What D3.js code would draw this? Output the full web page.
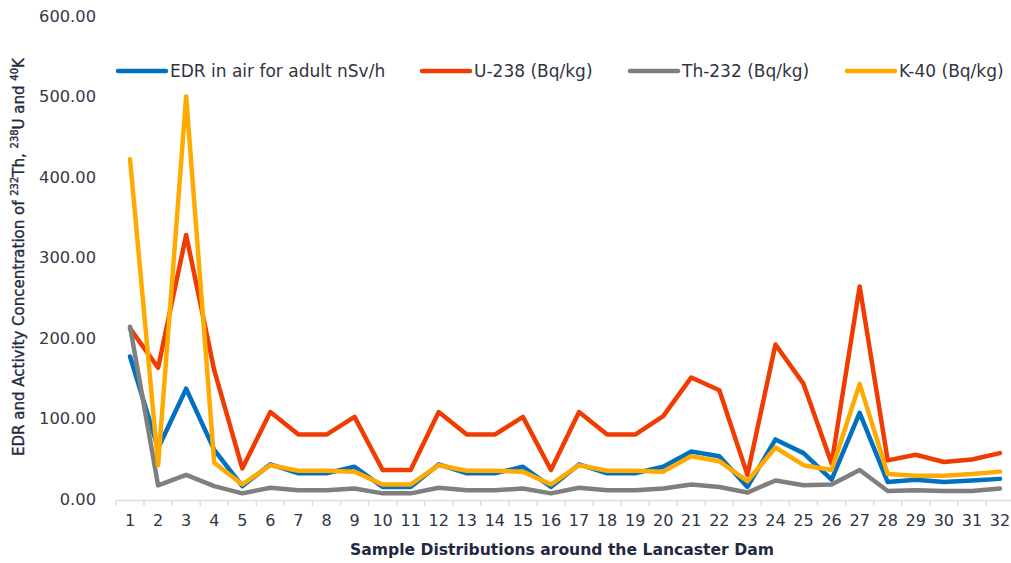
<!DOCTYPE html>
<html><head><meta charset="utf-8">
<script src="https://cdn.jsdelivr.net/npm/d3@7"></script>
<style>body{margin:0;background:#fff;} text{font-family:"DejaVu Sans",sans-serif;}</style>
</head><body>
<svg id="c" width="1011" height="563"></svg>
<script>
const categories = d3.range(1, 33).map(String);
const edr  = [177,63,137,61,16,43,32,32,40,15,15,43,32,32,40,15,43,32,32,40,59,53,15,74,57,24,107,21,24,21,23,25];
const u238 = [212,163,328,160,38,108,80,80,102,36,36,108,80,80,102,36,108,80,80,103,151,135,30,192,143,44,264,48,55,46,49,57];
const th232= [214,17,30,16,7,14,11,11,13,7,7,14,11,11,13,7,14,11,11,13,18,15,8,23,17,18,36,10,11,10,10,13];
const k40  = [422,42,500,45,18,42,35,35,34,18,18,42,35,35,34,18,42,35,35,34,53,47,22,64,42,36,143,31,29,29,31,34];
const yTicks = [0,100,200,300,400,500,600];
const seriesNames = ["EDR in air for adult nSv/h","U-238 (Bq/kg)","Th-232 (Bq/kg)","K-40 (Bq/kg)"];
const colors = ["#0070C0","#F03C00","#7F7F7F","#FFAA00"];
const series = [edr,u238,th232,k40];

const svg = d3.select("#c");
const x = d3.scaleBand().domain(categories).range([116,1014]);
const y = d3.scaleLinear().domain([0,600]).range([499,16]);

// y tick labels
svg.append("g").selectAll("text").data(yTicks).join("text")
  .attr("x",96).attr("y",d=>y(d)).attr("dy","0.35em").attr("text-anchor","end")
  .attr("font-size",16.3).attr("fill","#353a48").text(d=>d.toFixed(2));

// x axis
const xa = svg.append("g").attr("transform","translate(0,500)")
  .call(d3.axisBottom(x).tickSize(0).tickPadding(15));
xa.select(".domain").attr("stroke","#D9DEE8").attr("stroke-width",1.5);
xa.selectAll("text").attr("font-family","Open Sans, sans-serif").attr("font-size",16).attr("fill","#2F3542");
const bounds = categories.map(c=>x(c)).concat([x.range()[1]]);
xa.selectAll("line.b").data(bounds).join("line").attr("class","b")
  .attr("x1",d=>d).attr("x2",d=>d).attr("y1",0).attr("y2",6).attr("stroke","#D9DEE8").attr("stroke-width",1.5);

// lines
const line = d3.line().x((d,i)=>x(categories[i])+x.bandwidth()/2).y(d=>y(d));
series.forEach((s,i)=>{
  svg.append("path").datum(s).attr("d",line).attr("fill","none")
    .attr("stroke",colors[i]).attr("stroke-width",4.5).attr("stroke-linejoin","round").attr("stroke-linecap","round");
});

// legend
const legX = [118,422,630,847];
seriesNames.forEach((n,i)=>{
  svg.append("line").attr("x1",legX[i]).attr("x2",legX[i]+48).attr("y1",71).attr("y2",71)
    .attr("stroke",colors[i]).attr("stroke-width",4.5).attr("stroke-linecap","round");
  svg.append("text").attr("x",legX[i]+52).attr("y",71).attr("dy","0.35em")
    .attr("font-family","Open Sans, sans-serif").attr("font-size",17).attr("fill","#2F3542").text(n);
});

// axis titles
svg.append("text").attr("x",562).attr("y",555).attr("text-anchor","middle")
  .attr("font-family","Open Sans, sans-serif").attr("font-weight","bold").attr("font-size",15.6).attr("fill","#1F2940")
  .text("Sample Distributions around the Lancaster Dam");
const yt = svg.append("text").attr("transform","translate(24,257) rotate(-90)").attr("text-anchor","middle")
  .attr("font-family","Open Sans, sans-serif").attr("font-size",15).attr("fill","#1F2940")
  .attr("stroke","#1F2940").attr("stroke-width",0.35);
yt.append("tspan").text("EDR and Activity Concentration of ");
yt.append("tspan").attr("font-size",10).attr("dy",-6).text("232");
yt.append("tspan").attr("dy",6).text("Th, ");
yt.append("tspan").attr("font-size",10).attr("dy",-6).text("238");
yt.append("tspan").attr("dy",6).text("U and ");
yt.append("tspan").attr("font-size",10).attr("dy",-6).text("40");
yt.append("tspan").attr("dy",6).text("K");
</script>
</body></html>
